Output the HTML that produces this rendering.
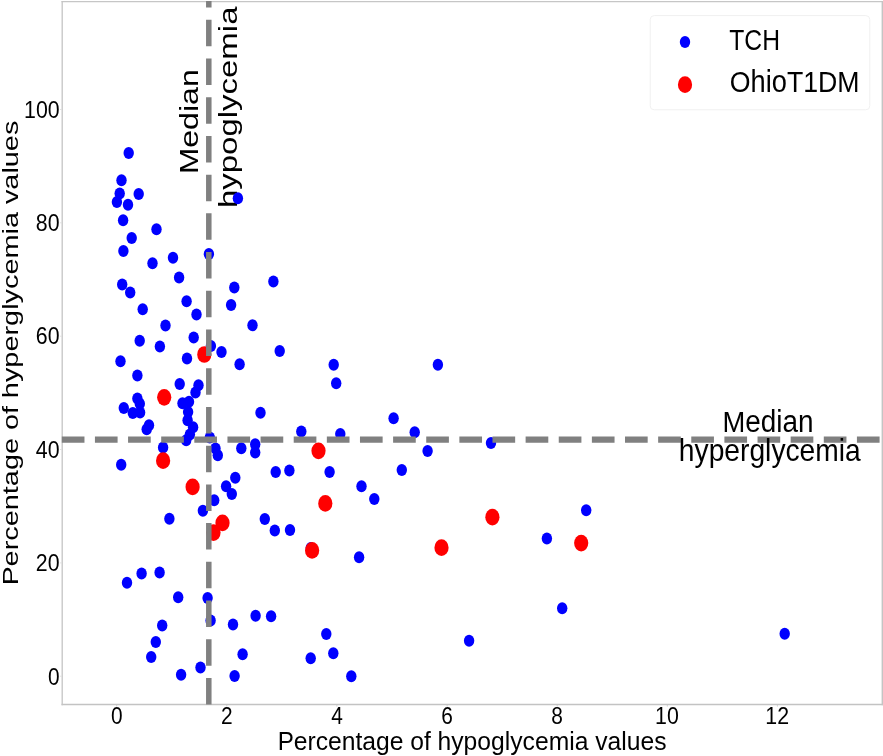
<!DOCTYPE html>
<html><head><meta charset="utf-8"><style>
html,body{margin:0;padding:0;background:#fff;width:883px;height:756px;overflow:hidden}
svg{display:block}
text{font-family:'Liberation Sans',sans-serif;fill:#000}
.tx{filter:grayscale(1)}
</style></head><body>
<svg width="883" height="756" viewBox="0 0 883 756">
<rect width="883" height="756" fill="#fff"/>

<g fill="none">
<line x1="61.5" y1="1.6" x2="882.9" y2="1.6" stroke="#c6c6c6" stroke-width="1.4"/>
<line x1="61.5" y1="704.5" x2="882.9" y2="704.5" stroke="#c3c3c3" stroke-width="1.6"/>
<line x1="62.2" y1="1" x2="62.2" y2="705.3" stroke="#c4c4c4" stroke-width="1.3"/>
<line x1="882.3" y1="1" x2="882.3" y2="705.3" stroke="#c4c4c4" stroke-width="1.4"/>
<line x1="116.7" y1="705" x2="116.7" y2="706.5" stroke="#cfcfcf" stroke-width="1"/>
<line x1="226.8" y1="705" x2="226.8" y2="706.5" stroke="#cfcfcf" stroke-width="1"/>
<line x1="336.9" y1="705" x2="336.9" y2="706.5" stroke="#cfcfcf" stroke-width="1"/>
<line x1="447.1" y1="705" x2="447.1" y2="706.5" stroke="#cfcfcf" stroke-width="1"/>
<line x1="557.2" y1="705" x2="557.2" y2="706.5" stroke="#cfcfcf" stroke-width="1"/>
<line x1="667.3" y1="705" x2="667.3" y2="706.5" stroke="#cfcfcf" stroke-width="1"/>
<line x1="777.4" y1="705" x2="777.4" y2="706.5" stroke="#cfcfcf" stroke-width="1"/>
<line x1="60.2" y1="676.2" x2="61.6" y2="676.2" stroke="#dadada" stroke-width="1"/>
<line x1="60.2" y1="562.9" x2="61.6" y2="562.9" stroke="#dadada" stroke-width="1"/>
<line x1="60.2" y1="449.5" x2="61.6" y2="449.5" stroke="#dadada" stroke-width="1"/>
<line x1="60.2" y1="336.2" x2="61.6" y2="336.2" stroke="#dadada" stroke-width="1"/>
<line x1="60.2" y1="222.8" x2="61.6" y2="222.8" stroke="#dadada" stroke-width="1"/>
<line x1="60.2" y1="109.5" x2="61.6" y2="109.5" stroke="#dadada" stroke-width="1"/>
</g>
<g fill="#0000ff">
<ellipse cx="128.7" cy="153.1" rx="5.2" ry="6.0"/>
<ellipse cx="121.5" cy="180.2" rx="5.2" ry="6.0"/>
<ellipse cx="119.7" cy="193.6" rx="5.2" ry="6.0"/>
<ellipse cx="116.9" cy="202.0" rx="5.2" ry="6.0"/>
<ellipse cx="138.7" cy="193.9" rx="5.2" ry="6.0"/>
<ellipse cx="128.0" cy="204.8" rx="5.2" ry="6.0"/>
<ellipse cx="123.1" cy="220.2" rx="5.2" ry="6.0"/>
<ellipse cx="156.5" cy="229.3" rx="5.2" ry="6.0"/>
<ellipse cx="131.7" cy="237.9" rx="5.2" ry="6.0"/>
<ellipse cx="123.4" cy="251.1" rx="5.2" ry="6.0"/>
<ellipse cx="152.5" cy="263.3" rx="5.2" ry="6.0"/>
<ellipse cx="173.0" cy="257.7" rx="5.2" ry="6.0"/>
<ellipse cx="179.1" cy="277.5" rx="5.2" ry="6.0"/>
<ellipse cx="122.2" cy="284.4" rx="5.2" ry="6.0"/>
<ellipse cx="130.2" cy="292.5" rx="5.2" ry="6.0"/>
<ellipse cx="142.7" cy="309.3" rx="5.2" ry="6.0"/>
<ellipse cx="186.6" cy="301.3" rx="5.2" ry="6.0"/>
<ellipse cx="196.5" cy="314.4" rx="5.2" ry="6.0"/>
<ellipse cx="165.5" cy="325.5" rx="5.2" ry="6.0"/>
<ellipse cx="139.7" cy="340.7" rx="5.2" ry="6.0"/>
<ellipse cx="159.9" cy="346.4" rx="5.2" ry="6.0"/>
<ellipse cx="193.7" cy="337.5" rx="5.2" ry="6.0"/>
<ellipse cx="120.5" cy="361.2" rx="5.2" ry="6.0"/>
<ellipse cx="187.0" cy="358.5" rx="5.2" ry="6.0"/>
<ellipse cx="137.4" cy="375.5" rx="5.2" ry="6.0"/>
<ellipse cx="179.7" cy="384.0" rx="5.2" ry="6.0"/>
<ellipse cx="198.5" cy="385.2" rx="5.2" ry="6.0"/>
<ellipse cx="195.5" cy="392.6" rx="5.2" ry="6.0"/>
<ellipse cx="137.4" cy="398.6" rx="5.2" ry="6.0"/>
<ellipse cx="139.8" cy="403.8" rx="5.2" ry="6.0"/>
<ellipse cx="123.8" cy="408.1" rx="5.2" ry="6.0"/>
<ellipse cx="132.8" cy="413.1" rx="5.2" ry="6.0"/>
<ellipse cx="140.1" cy="412.4" rx="5.2" ry="6.0"/>
<ellipse cx="149.0" cy="425.3" rx="5.2" ry="6.0"/>
<ellipse cx="146.7" cy="429.3" rx="5.2" ry="6.0"/>
<ellipse cx="182.5" cy="403.3" rx="5.2" ry="6.0"/>
<ellipse cx="189.0" cy="401.8" rx="5.2" ry="6.0"/>
<ellipse cx="188.1" cy="411.9" rx="5.2" ry="6.0"/>
<ellipse cx="187.6" cy="420.3" rx="5.2" ry="6.0"/>
<ellipse cx="193.1" cy="427.2" rx="5.2" ry="6.0"/>
<ellipse cx="189.9" cy="434.6" rx="5.2" ry="6.0"/>
<ellipse cx="186.2" cy="440.2" rx="5.2" ry="6.0"/>
<ellipse cx="209.8" cy="437.6" rx="5.2" ry="6.0"/>
<ellipse cx="163.1" cy="447.5" rx="5.2" ry="6.0"/>
<ellipse cx="121.2" cy="464.7" rx="5.2" ry="6.0"/>
<ellipse cx="169.4" cy="518.7" rx="5.2" ry="6.0"/>
<ellipse cx="127.0" cy="582.7" rx="5.2" ry="6.0"/>
<ellipse cx="141.6" cy="573.4" rx="5.2" ry="6.0"/>
<ellipse cx="159.6" cy="572.5" rx="5.2" ry="6.0"/>
<ellipse cx="178.2" cy="597.3" rx="5.2" ry="6.0"/>
<ellipse cx="162.2" cy="625.6" rx="5.2" ry="6.0"/>
<ellipse cx="155.8" cy="642.1" rx="5.2" ry="6.0"/>
<ellipse cx="151.2" cy="657.1" rx="5.2" ry="6.0"/>
<ellipse cx="181.1" cy="674.8" rx="5.2" ry="6.0"/>
<ellipse cx="200.5" cy="667.6" rx="5.2" ry="6.0"/>
<ellipse cx="208.9" cy="254.0" rx="5.2" ry="6.0"/>
<ellipse cx="234.3" cy="287.5" rx="5.2" ry="6.0"/>
<ellipse cx="273.4" cy="281.6" rx="5.2" ry="6.0"/>
<ellipse cx="231.1" cy="305.0" rx="5.2" ry="6.0"/>
<ellipse cx="252.5" cy="325.2" rx="5.2" ry="6.0"/>
<ellipse cx="210.9" cy="346.0" rx="5.2" ry="6.0"/>
<ellipse cx="221.5" cy="352.0" rx="5.2" ry="6.0"/>
<ellipse cx="279.7" cy="350.9" rx="5.2" ry="6.0"/>
<ellipse cx="239.6" cy="364.2" rx="5.2" ry="6.0"/>
<ellipse cx="260.5" cy="412.8" rx="5.2" ry="6.0"/>
<ellipse cx="215.5" cy="448.5" rx="5.2" ry="6.0"/>
<ellipse cx="217.8" cy="455.2" rx="5.2" ry="6.0"/>
<ellipse cx="241.3" cy="448.3" rx="5.2" ry="6.0"/>
<ellipse cx="255.2" cy="444.3" rx="5.2" ry="6.0"/>
<ellipse cx="255.2" cy="452.6" rx="5.2" ry="6.0"/>
<ellipse cx="275.7" cy="472.1" rx="5.2" ry="6.0"/>
<ellipse cx="289.4" cy="470.5" rx="5.2" ry="6.0"/>
<ellipse cx="235.3" cy="477.7" rx="5.2" ry="6.0"/>
<ellipse cx="226.1" cy="486.3" rx="5.2" ry="6.0"/>
<ellipse cx="231.8" cy="494.0" rx="5.2" ry="6.0"/>
<ellipse cx="214.2" cy="500.2" rx="5.2" ry="6.0"/>
<ellipse cx="202.9" cy="510.8" rx="5.2" ry="6.0"/>
<ellipse cx="264.8" cy="519.1" rx="5.2" ry="6.0"/>
<ellipse cx="274.8" cy="530.6" rx="5.2" ry="6.0"/>
<ellipse cx="290.0" cy="529.9" rx="5.2" ry="6.0"/>
<ellipse cx="207.6" cy="598.1" rx="5.2" ry="6.0"/>
<ellipse cx="210.6" cy="620.6" rx="5.2" ry="6.0"/>
<ellipse cx="233.0" cy="624.6" rx="5.2" ry="6.0"/>
<ellipse cx="255.6" cy="615.7" rx="5.2" ry="6.0"/>
<ellipse cx="271.1" cy="616.2" rx="5.2" ry="6.0"/>
<ellipse cx="242.6" cy="654.3" rx="5.2" ry="6.0"/>
<ellipse cx="234.6" cy="676.0" rx="5.2" ry="6.0"/>
<ellipse cx="333.7" cy="364.7" rx="5.2" ry="6.0"/>
<ellipse cx="336.2" cy="383.3" rx="5.2" ry="6.0"/>
<ellipse cx="301.3" cy="431.5" rx="5.2" ry="6.0"/>
<ellipse cx="340.3" cy="434.1" rx="5.2" ry="6.0"/>
<ellipse cx="329.6" cy="471.9" rx="5.2" ry="6.0"/>
<ellipse cx="361.5" cy="486.2" rx="5.2" ry="6.0"/>
<ellipse cx="374.3" cy="499.0" rx="5.2" ry="6.0"/>
<ellipse cx="310.8" cy="548.1" rx="5.2" ry="6.0"/>
<ellipse cx="359.1" cy="557.3" rx="5.2" ry="6.0"/>
<ellipse cx="326.3" cy="634.0" rx="5.2" ry="6.0"/>
<ellipse cx="310.7" cy="658.3" rx="5.2" ry="6.0"/>
<ellipse cx="333.3" cy="653.2" rx="5.2" ry="6.0"/>
<ellipse cx="351.3" cy="676.2" rx="5.2" ry="6.0"/>
<ellipse cx="437.9" cy="364.7" rx="5.2" ry="6.0"/>
<ellipse cx="393.6" cy="418.3" rx="5.2" ry="6.0"/>
<ellipse cx="414.7" cy="432.2" rx="5.2" ry="6.0"/>
<ellipse cx="427.6" cy="450.9" rx="5.2" ry="6.0"/>
<ellipse cx="401.8" cy="470.0" rx="5.2" ry="6.0"/>
<ellipse cx="491.0" cy="442.9" rx="5.2" ry="6.0"/>
<ellipse cx="586.2" cy="510.3" rx="5.2" ry="6.0"/>
<ellipse cx="546.9" cy="538.5" rx="5.2" ry="6.0"/>
<ellipse cx="562.2" cy="608.3" rx="5.2" ry="6.0"/>
<ellipse cx="469.1" cy="640.8" rx="5.2" ry="6.0"/>
<ellipse cx="784.7" cy="633.8" rx="5.2" ry="6.0"/>
</g>
<g fill="#ff0000">
<ellipse cx="204.3" cy="354.5" rx="7.1" ry="8.35"/>
<ellipse cx="164.2" cy="397.3" rx="7.1" ry="8.35"/>
<ellipse cx="163.1" cy="460.7" rx="7.1" ry="8.35"/>
<ellipse cx="192.6" cy="486.9" rx="7.1" ry="8.35"/>
<ellipse cx="222.5" cy="522.9" rx="7.1" ry="8.35"/>
<ellipse cx="213.5" cy="532.6" rx="7.1" ry="8.35"/>
<ellipse cx="318.5" cy="450.8" rx="7.1" ry="8.35"/>
<ellipse cx="325.3" cy="503.4" rx="7.1" ry="8.35"/>
<ellipse cx="312.1" cy="550.4" rx="7.1" ry="8.35"/>
<ellipse cx="492.4" cy="517.2" rx="7.1" ry="8.35"/>
<ellipse cx="441.5" cy="547.7" rx="7.1" ry="8.35"/>
<ellipse cx="581.2" cy="543.1" rx="7.1" ry="8.35"/>
</g>
<line x1="61.8" y1="439.7" x2="882" y2="439.7" stroke="#808080" stroke-width="6.3" stroke-dasharray="22.67 10.46"/>
<line x1="208.8" y1="704.5" x2="208.8" y2="1" stroke="#808080" stroke-width="5.5" stroke-dasharray="26.5 12.22"/>
<g class="tx">
<text transform="translate(110.91,723.60) scale(0.9000,1)" font-size="23.2">0</text>
<text transform="translate(221.03,723.60) scale(0.9000,1)" font-size="23.2">2</text>
<text transform="translate(331.20,723.60) scale(0.9000,1)" font-size="23.2">4</text>
<text transform="translate(441.21,723.60) scale(0.9000,1)" font-size="23.2">6</text>
<text transform="translate(551.33,723.60) scale(0.9000,1)" font-size="23.2">8</text>
<text transform="translate(655.03,723.60) scale(0.9200,1)" font-size="23.2">10</text>
<text transform="translate(765.31,723.60) scale(0.9200,1)" font-size="23.2">12</text>
<text transform="translate(48.05,684.50) scale(0.9000,1)" font-size="23.2">0</text>
<text transform="translate(35.86,571.16) scale(0.9200,1)" font-size="23.2">20</text>
<text transform="translate(35.86,457.82) scale(0.9200,1)" font-size="23.2">40</text>
<text transform="translate(35.86,344.48) scale(0.9200,1)" font-size="23.2">60</text>
<text transform="translate(35.86,231.14) scale(0.9200,1)" font-size="23.2">80</text>
<text transform="translate(24.01,117.80) scale(0.9200,1)" font-size="23.2">100</text>
<text transform="translate(277.66,749.50) scale(0.9305,1)" font-size="26">P<tspan font-size="26.520">ercentage</tspan> <tspan font-size="26.520">of</tspan> <tspan font-size="26.520">hypoglycemia</tspan> <tspan font-size="26.520">values</tspan></text>
<text transform="translate(17.90,585.27) scale(0.855,1) rotate(-90) scale(1.0893,1)" font-size="26">P<tspan font-size="26.520">ercentage</tspan> <tspan font-size="26.520">of</tspan> <tspan font-size="26.520">hyperglycemia</tspan> <tspan font-size="26.520">values</tspan></text>
<text transform="translate(197.90,174.12) scale(0.855,1) rotate(-90) scale(1.0514,1)" font-size="30">M<tspan font-size="30.600">edian</tspan></text>
<text transform="translate(237.10,208.06) scale(0.855,1) rotate(-90) scale(1.0776,1)" font-size="30"><tspan font-size="30.600">hypoglycemia</tspan></text>
<text transform="translate(722.41,432.20) scale(0.9119,1)" font-size="30">M<tspan font-size="30.600">edian</tspan></text>
<text transform="translate(678.86,460.60) scale(0.9224,1)" font-size="30"><tspan font-size="30.600">hyperglycemia</tspan></text>
</g>
<g fill="#0000ff">
<ellipse cx="237.9" cy="198.2" rx="5.2" ry="6.0"/>
</g>
<rect x="650.2" y="15.6" width="219.6" height="94.2" rx="4" ry="4" fill="#fff" fill-opacity="0.8" stroke="#f0f0f0" stroke-width="1"/>
<ellipse cx="685" cy="42.1" rx="5.2" ry="6.0" fill="#0000ff"/>
<ellipse cx="685" cy="84.7" rx="7.1" ry="8.35" fill="#ff0000"/>
<g class="tx">
<text transform="translate(729.28,49.70) scale(0.8222,1)" font-size="30">TCH</text>
<text transform="translate(729.80,91.90) scale(0.8898,1)" font-size="30">O<tspan font-size="30.600">hio</tspan>T1DM</text>
</g>
</svg></body></html>
